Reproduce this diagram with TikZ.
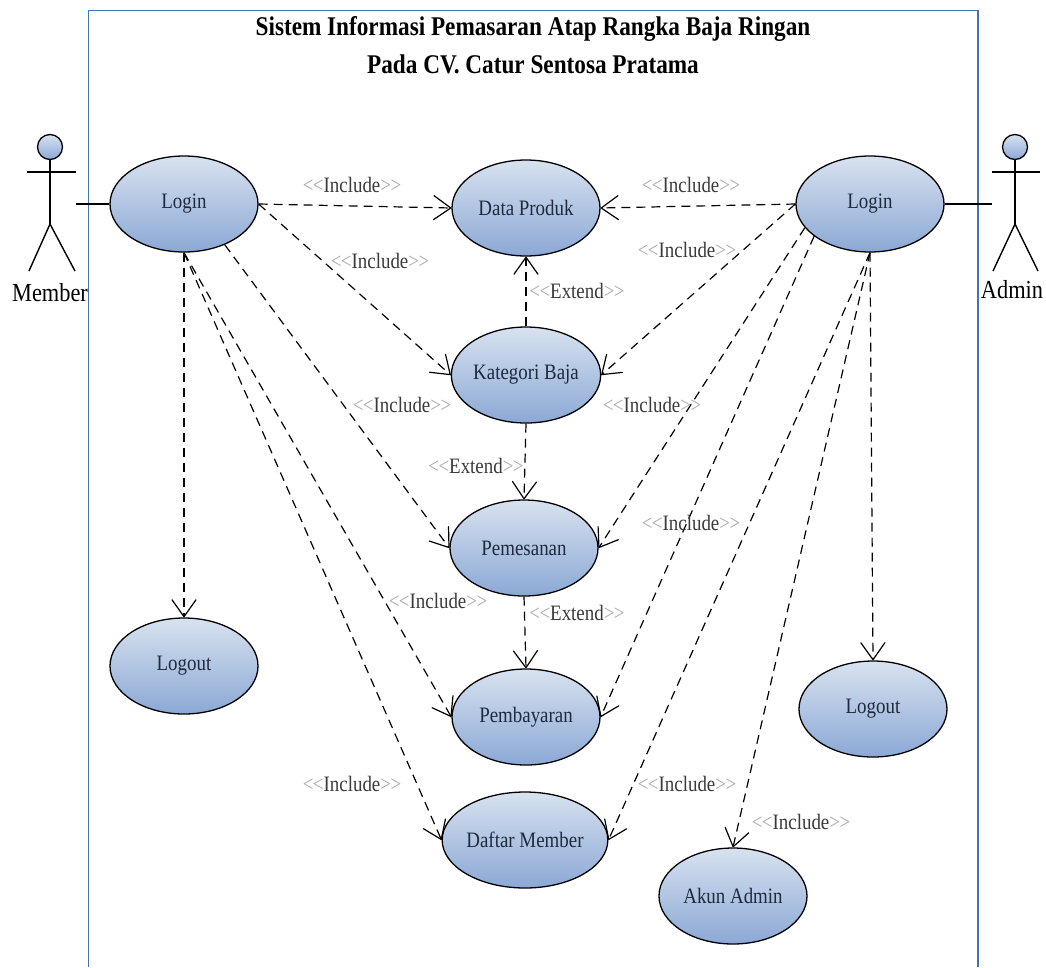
\documentclass[tikz,border=0pt]{standalone}
\usepackage{fontspec}
\setmainfont[FakeStretch=0.86,Ligatures=NoCommon]{Liberation Serif}
\usetikzlibrary{arrows.meta,shapes.geometric}
\definecolor{frameblue}{HTML}{3F74B0}
\definecolor{uctop}{HTML}{D8E2F0}
\definecolor{ucbot}{HTML}{8BA8D5}
\definecolor{uctext}{HTML}{1E2A40}
\definecolor{lblgray}{HTML}{A8A8A8}
\definecolor{lbltext}{HTML}{3A3A3A}
\newcommand{\stereo}[1]{\textcolor{lblgray}{{<}\kern-.5pt{<}}#1\textcolor{lblgray}{{>}\kern-.5pt{>}}}
\tikzset{
  x=1pt,y=-1pt,
  usecase/.style={ellipse,draw=black,line width=1.3pt,minimum width=148pt,minimum height=96pt,inner sep=0pt,
    top color=uctop,bottom color=ucbot,text=uctext,font=\fontsize{22}{24}\selectfont},
  dep/.style={draw=black,line width=1.2pt,dash pattern=on 9pt off 6pt,
    -{Straight Barb[length=17pt,width=24pt,line width=1.2pt,round,sep=0pt]}},
  assoc/.style={draw=black,line width=1.3pt},
  limb/.style={draw=black,line width=1.4pt},
  head/.style={circle,draw=black,line width=1.3pt,minimum size=25pt,inner sep=0pt,top color=uctop,bottom color=ucbot},
  lbl/.style={text=lbltext,font=\fontsize{22}{24}\selectfont,inner sep=0pt},
  actorname/.style={text=black,font=\fontsize{26}{28}\selectfont,inner sep=0pt},
  titletext/.style={text=black,font=\bfseries\fontsize{27}{30}\selectfont,inner sep=0pt},
}
\begin{document}
\begin{tikzpicture}
\useasboundingbox (0,0) rectangle (1046,967);
% frame
\coordinate (fbl) at (88.5,967); \coordinate (ftl) at (88.5,10.5);
\coordinate (ftr) at (978,10.5); \coordinate (fbr) at (978,967);
\draw[frameblue,line width=1.3pt] (fbl) -- (ftl) -- (ftr) -- (fbr);
% title
\node[titletext] (t1) at (533,29) {Sistem Informasi Pemasaran Atap Rangka Baja Ringan};
\node[titletext] (t2) at (533,64) {Pada CV. Catur Sentosa Pratama};
% use cases
\node[usecase] (loginL) at (184,204) {Login};
\node[usecase] (produk) at (526,208) {Data Produk};
\node[usecase] (loginR) at (870,204) {Login};
\node[usecase] (kategori) at (526,375) {Kategori Baja};
\node[usecase] (pesan) at (524,548) {Pemesanan};
\node[usecase] (logoutL) at (184,666) {Logout};
\node[usecase] (bayar) at (526,717) {Pembayaran};
\node[usecase] (daftar) at (525,840) {Daftar Member};
\node[usecase] (logoutR) at (873,709) {Logout};
\node[usecase] (akun) at (733,896) {Akun Admin};
% member actor
\node[head] (hM) at (50,147) {};
\coordinate (hipM) at (50,224);
\coordinate (armML) at (27,172); \coordinate (armMR) at (76,172);
\coordinate (neckM) at (50,172);
\coordinate (legML) at (29,271); \coordinate (legMR) at (75,271);
\draw[limb] (hM) -- (hipM);
\draw[limb] (armML) -- (armMR);
\draw[limb] (legML) -- (hipM) -- (legMR);
\node[actorname] (mName) at (50,293) {Member};
% admin actor
\node[head] (hA) at (1015,147) {};
\coordinate (hipA) at (1015,224);
\coordinate (armAL) at (992,172); \coordinate (armAR) at (1040,172);
\coordinate (legAL) at (993,271); \coordinate (legAR) at (1038,271);
\draw[limb] (hA) -- (hipA);
\draw[limb] (armAL) -- (armAR);
\draw[limb] (legAL) -- (hipA) -- (legAR);
\node[actorname] (aName) at (1012,290) {Admin};
% associations
\coordinate (aM) at (76,204); \coordinate (aA) at (992,204);
\draw[assoc] (aM) -- (loginL);
\draw[assoc] (loginR) -- (aA);
% member deps
\draw[dep] (loginL.east) -- (produk.west);
\draw[dep] (loginL.east) -- (kategori.west);
\draw[dep] (loginL.-45) -- (pesan.west);
\draw[dep] (loginL.south) -- (logoutL.north);
\draw[dep] (loginL.south) -- (bayar.west);
\draw[dep] (loginL.south) -- (daftar.west);
% admin deps
\draw[dep] (loginR.west) -- (produk.east);
\draw[dep] (loginR.west) -- (kategori.east);
\draw[dep] (loginR.-160) -- (pesan.east);
\draw[dep] (loginR.-150) -- (bayar.east);
\draw[dep] (loginR.south) -- (daftar.east);
\draw[dep] (loginR.south) -- (logoutR.north);
\draw[dep] (loginR.south) -- (akun.north);
% extends
\draw[dep] (kategori.north) -- (produk.south);
\draw[dep] (kategori.south) -- (pesan.north);
\draw[dep] (pesan.south) -- (bayar.north);
% labels
\node[lbl] (l1) at (352,185) {\stereo{Include}};
\node[lbl] (l2) at (380,261) {\stereo{Include}};
\node[lbl] (l3) at (402,405) {\stereo{Include}};
\node[lbl] (l4) at (438,601) {\stereo{Include}};
\node[lbl] (l5) at (352,784) {\stereo{Include}};
\node[lbl] (l6) at (691,185) {\stereo{Include}};
\node[lbl] (l7) at (687,250) {\stereo{Include}};
\node[lbl] (l8) at (652,405) {\stereo{Include}};
\node[lbl] (l9) at (691,523) {\stereo{Include}};
\node[lbl] (l10) at (687,784) {\stereo{Include}};
\node[lbl] (l11) at (801,822) {\stereo{Include}};
\node[lbl] (e1) at (577,291) {\stereo{Extend}};
\node[lbl] (e2) at (476,466) {\stereo{Extend}};
\node[lbl] (e3) at (577,613) {\stereo{Extend}};
\end{tikzpicture}
\end{document}
